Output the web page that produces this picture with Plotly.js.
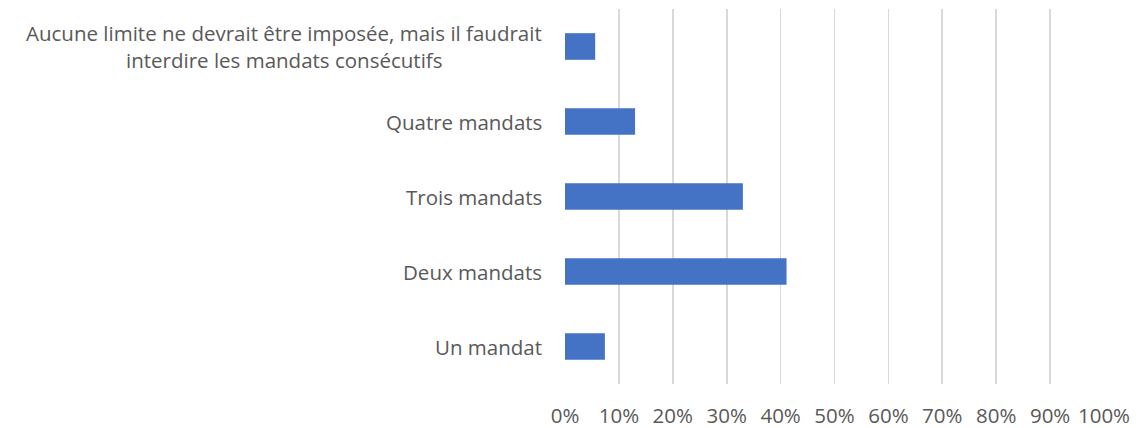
<!DOCTYPE html>
<html>
<head>
<meta charset="utf-8">
<script src="https://cdn.plot.ly/plotly-3.0.1.min.js"></script>
<style>html,body{margin:0;padding:0;background:#fff;}#chart{width:1143px;height:428px;}</style>
</head>
<body>
<div id="chart"></div>
<script>
const categories = [
  "Aucune limite ne devrait être imposée, mais il faudrait<br>interdire les mandats consécutifs",
  "Quatre mandats",
  "Trois mandats",
  "Deux mandats",
  "Un mandat"
];
const values = [0.056, 0.13, 0.33, 0.411, 0.074];
const tickVals = [0, 0.1, 0.2, 0.3, 0.4, 0.5, 0.6, 0.7, 0.8, 0.9, 1.0];
const tickText = ["0%", "10%", "20%", "30%", "40%", "50%", "60%", "70%", "80%", "90%", "100%"];

const FONT = '"Open Sans", sans-serif';
const FSIZE = 20.5;
const GREY = '#595959';
const LINE_H = 27;
const LABEL_GAP = 21;

const trace = {
  type: 'bar',
  orientation: 'h',
  y: categories,
  x: values,
  width: 0.355,
  marker: {color: '#4472C4'},
  hoverinfo: 'none'
};

// Category labels as centred text blocks right-anchored next to the axis
const annotations = [];
const meta = [];
categories.forEach(function (c) {
  const lines = c.split('<br>');
  const n = lines.length;
  lines.forEach(function (ln, i) {
    annotations.push({
      xref: 'paper', yref: 'y',
      x: 0, y: c,
      xshift: -LABEL_GAP,
      yshift: ((n - 1) / 2 - i) * LINE_H,
      text: ln,
      showarrow: false,
      xanchor: 'right',
      yanchor: 'middle',
      align: 'center',
      font: {family: FONT, size: FSIZE, color: GREY}
    });
    meta.push(c);
  });
});

const layout = {
  width: 1143,
  height: 428,
  margin: {l: 564.5, r: 38.5, t: 9, b: 44},
  paper_bgcolor: '#ffffff',
  plot_bgcolor: '#ffffff',
  font: {family: FONT, size: FSIZE, color: GREY},
  showlegend: false,
  xaxis: {
    range: [0, 1],
    tickvals: tickVals,
    ticktext: tickText,
    showgrid: true,
    gridcolor: '#d9d9d9',
    gridwidth: 1.6,
    zeroline: false,
    showline: false,
    ticks: '',
    ticklabelstandoff: 17,
    tickfont: {family: FONT, size: FSIZE, color: GREY},
    fixedrange: true
  },
  yaxis: {
    autorange: 'reversed',
    showgrid: false,
    zeroline: false,
    showline: false,
    ticks: '',
    showticklabels: false,
    fixedrange: true
  },
  annotations: annotations
};

Plotly.newPlot('chart', [trace], layout, {displayModeBar: false, staticPlot: true}).then(function (gd) {
  // centre multi-line blocks: shift shorter lines left so all lines share a centre
  const groups = {};
  meta.forEach(function (c, idx) { (groups[c] = groups[c] || []).push(idx); });
  const nodes = gd.querySelectorAll('.annotation');
  const widths = [];
  nodes.forEach(function (n, i) { widths[i] = n.querySelector('text').getBBox().width; });
  const updates = {};
  Object.keys(groups).forEach(function (k) {
    const idxs = groups[k];
    if (idxs.length < 2) return;
    const maxW = Math.max.apply(null, idxs.map(function (i) { return widths[i]; }));
    idxs.forEach(function (i) {
      updates['annotations[' + i + '].xshift'] = -LABEL_GAP - (maxW - widths[i]) / 2;
    });
  });
  if (Object.keys(updates).length) Plotly.relayout(gd, updates);
});
</script>
</body>
</html>
